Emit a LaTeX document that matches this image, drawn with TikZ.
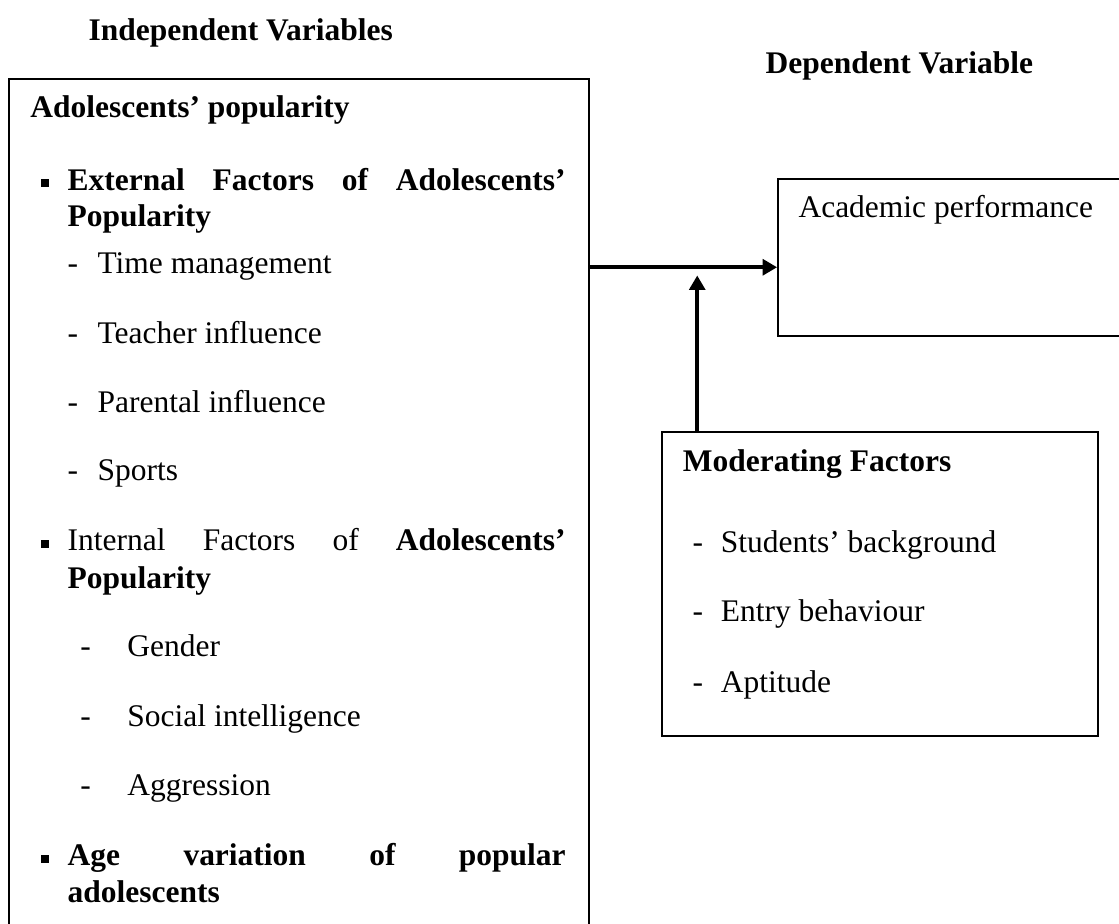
\documentclass[tikz,border=0pt,12pt]{standalone}
\usepackage{fontspec}
\setmainfont{Liberation Serif}
\usetikzlibrary{arrows.meta, positioning}

\tikzset{
    box/.style={rectangle, draw, line width=0.6pt, inner sep=0, anchor=north west},
    item/.style={anchor=base west, inner sep=0},
    head/.style={item, font=\bfseries},
    dot/.style={rectangle, fill, minimum size=0.105cm, inner sep=0},
    link/.style={-{Triangle[length=5.5pt,width=6pt]}, line width=1.5pt}
}

\begin{document}
\begin{tikzpicture}
        \useasboundingbox (0,0) rectangle (14.99,-12.37);

        % headings
        \node at (1.18,-0.54) [head] (indep_head) {Independent Variables};
        \node at (10.25,-0.98) [head] (dep_head) {Dependent Variable};

        % independent variables (box runs past the bottom edge)
        \node at (0.11,-1.05) [box, minimum width=7.77cm, minimum height=11.55cm] (indep) {};
        \node at (0.40,-1.58) [head] (indep_title) {Adolescents' popularity};

        \node at (0.60,-2.45) [dot] (ext_dot) {};
        \node at (0.90,-2.55) [item] (ext_1) {\makebox[6.67cm][s]{\bfseries External Factors of Adolescents'}};
        \node at (0.90,-3.03) [head] (ext_2) {Popularity};
        \foreach \y/\txt in {3.66/Time management, 4.60/Teacher influence, 5.52/Parental influence, 6.43/Sports} {
            \node at (0.90,-\y) [item] {-};
            \node at (1.30,-\y) [item] {\txt};
        }

        \node at (0.60,-7.29) [dot] (int_dot) {};
        \node at (0.90,-7.38) [item] (int_1) {\makebox[6.67cm][s]{Internal Factors of \textbf{Adolescents'}}};
        \node at (0.90,-7.88) [head] (int_2) {Popularity};
        \foreach \y/\txt in {8.79/Gender, 9.73/Social intelligence, 10.65/Aggression} {
            \node at (1.07,-\y) [item] {-};
            \node at (1.70,-\y) [item] {\txt};
        }

        \node at (0.60,-11.51) [dot] (age_dot) {};
        \node at (0.90,-11.60) [item] (age_1) {\makebox[6.67cm][s]{\bfseries Age variation of popular}};
        \node at (0.90,-12.09) [head] (age_2) {adolescents};

        % dependent variable (box runs past the right edge)
        \node at (10.41,-2.39) [box, minimum width=4.80cm, minimum height=2.10cm] (acad) {};
        \node at (10.69,-2.92) [item] (acad_text) {Academic performance};

        % moderating factors
        \node at (8.86,-5.78) [box, minimum width=5.84cm, minimum height=4.07cm] (moder) {};
        \node at (9.14,-6.32) [head] (moder_title) {Moderating Factors};
        \foreach \y/\txt in {7.40/Students' background, 8.33/Entry behaviour, 9.27/Aptitude} {
            \node at (9.27,-\y) [item] {-};
            \node at (9.65,-\y) [item] {\txt};
        }

        \coordinate (meet) at (9.34,-3.58);

        \draw[link] (indep.east |- meet) -- (acad.west |- meet);
        \draw[link, shorten >=0.11cm] (moder.north -| meet) -- (meet);

\end{tikzpicture}
\end{document}
